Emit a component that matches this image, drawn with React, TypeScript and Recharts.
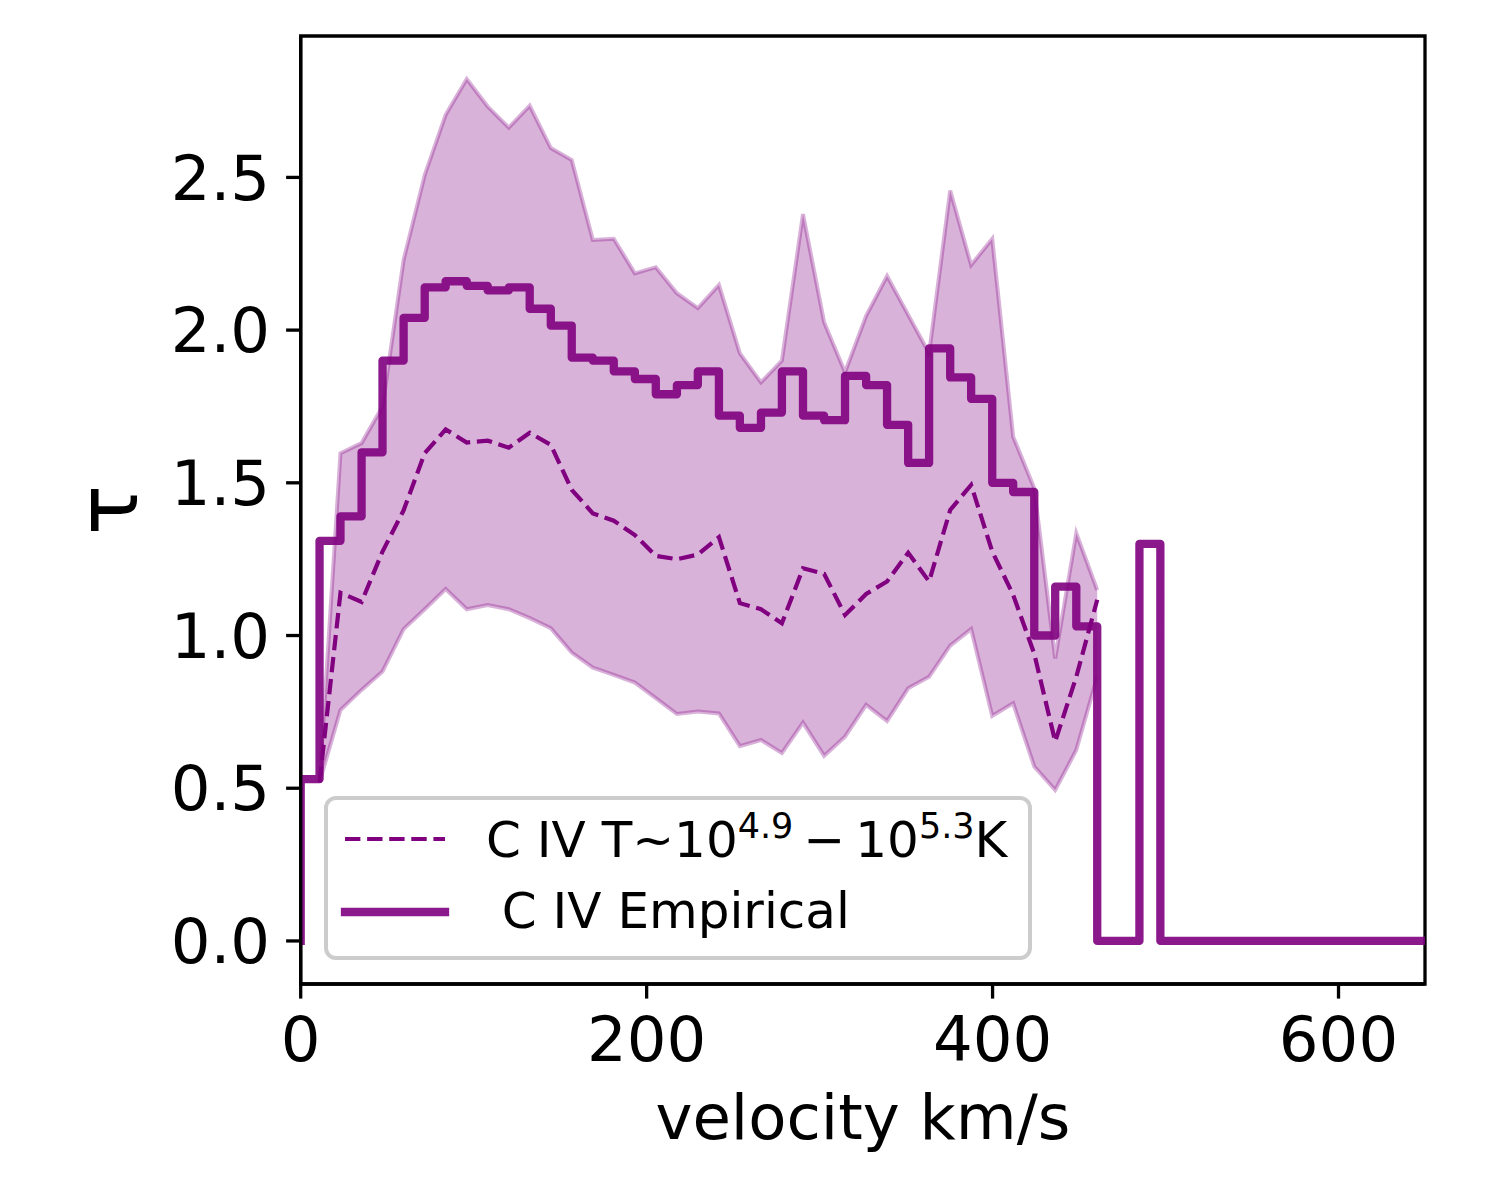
import { Area, ComposedChart, Line, ReferenceArea, XAxis, YAxis } from 'recharts';

const FONT = '"DejaVu Sans", sans-serif';
const PURPLE = '#800080';

// velocity grid (km/s); the first and last entries just anchor the step line
const VELOCITY = [
  0, 10.9, 23.0, 35.2, 47.3, 59.5, 71.7, 83.8, 96.0, 108.1, 120.3, 132.4, 144.6, 156.7,
  168.9, 181.0, 193.2, 205.3, 217.5, 229.6, 241.8, 253.9, 266.1, 278.2, 290.4, 302.6,
  314.7, 326.9, 339.0, 351.2, 363.3, 375.5, 387.6, 399.8, 411.9, 424.1, 436.2, 448.4,
  460.5, 472.7, 484.9, 497.0, 650,
];

// C IV empirical optical depth (steps)
const EMPIRICAL = [
  0, 0.53, 1.31, 1.39, 1.6, 1.9, 2.04, 2.14, 2.16, 2.145, 2.13, 2.14, 2.07, 2.015, 1.91,
  1.9, 1.865, 1.84, 1.79, 1.82, 1.865, 1.72, 1.68, 1.73, 1.865, 1.72, 1.705, 1.85, 1.82,
  1.69, 1.565, 1.94, 1.845, 1.775, 1.5, 1.47, 1.0, 1.16, 1.03, 0, 0, 1.3, 0,
];

// C IV model T~10^4.9-10^5.3 K (median)
const MODEL = [
  null, 0.52, 1.14, 1.11, 1.275, 1.41, 1.597, 1.675, 1.632, 1.638, 1.615, 1.664, 1.624,
  1.477, 1.4, 1.376, 1.329, 1.261, 1.25, 1.265, 1.322, 1.106, 1.086, 1.04, 1.22, 1.202,
  1.067, 1.136, 1.177, 1.271, 1.177, 1.411, 1.493, 1.275, 1.133, 0.94, 0.653, 0.865, 1.117,
  null, null, null, null,
];

const BAND_LOW = [
  null, 0.52, 0.756, 0.822, 0.882, 1.021, 1.086, 1.152, 1.086, 1.1, 1.086, 1.057, 1.024,
  0.944, 0.895, 0.871, 0.846, 0.795, 0.743, 0.751, 0.745, 0.638, 0.658, 0.615, 0.715, 0.606,
  0.669, 0.773, 0.72, 0.827, 0.865, 0.967, 1.021, 0.737, 0.778, 0.571, 0.494, 0.625, 0.865,
  null, null, null, null,
];

const BAND_HIGH = [
  null, 0.52, 1.597, 1.63, 1.75, 2.23, 2.508, 2.705, 2.822, 2.732, 2.663, 2.735, 2.596,
  2.557, 2.295, 2.299, 2.186, 2.206, 2.121, 2.072, 2.148, 1.924, 1.829, 1.9, 2.38, 2.026,
  1.862, 2.047, 2.177, 2.05, 1.924, 2.457, 2.213, 2.299, 1.651, 1.482, 0.925, 1.335, 1.149,
  null, null, null, null,
];

const X_TICKS = [0, 200, 400, 600];
const Y_TICKS = [0, 0.5, 1, 1.5, 2, 2.5];
const X_DOMAIN = [0, 650];
const Y_DOMAIN = [-0.141, 2.963];

const data = VELOCITY.map((v, i) => ({
  v,
  empirical: EMPIRICAL[i],
  model: MODEL[i],
  band: BAND_LOW[i] == null ? null : [BAND_LOW[i], BAND_HIGH[i]],
}));

function TauLabel(props: any) {
  const vb = props.viewBox ?? { x: 0, y: 36, width: 300.7, height: 948 };
  const x = vb.x + 136.7;
  const y = vb.y + vb.height / 2;
  return (
    <text
      x={x}
      y={y}
      transform={`rotate(-90 ${x} ${y})`}
      textAnchor="middle"
      fontSize={83}
      fontFamily={FONT}
      fill="#000"
    >
      τ
    </text>
  );
}

function ChartLegend() {
  return (
    <svg
      width={708}
      height={164}
      style={{ position: 'absolute', left: 324, top: 796 }}
    >
      <rect
        x={2}
        y={2}
        width={704}
        height={160}
        rx={10}
        fill="#fff"
        fillOpacity={0.8}
        stroke="#cccccc"
        strokeWidth={4}
      />
      <line
        x1={21}
        y1={43}
        x2={121}
        y2={43}
        stroke={PURPLE}
        strokeWidth={4.2}
        strokeDasharray="15.4 6.7"
      />
      <text x={162} y={60.5} fontSize={50} fontFamily={FONT} fill="#000">
        C IV T~10
        <tspan dy={-19} fontSize={35}>4.9</tspan>
        <tspan dy={19} fontSize={50}>{'\u2009\u2212\u200910'}</tspan>
        <tspan dy={-19} fontSize={35}>5.3</tspan>
        <tspan dy={19} fontSize={50}>K</tspan>
      </text>
      <line
        x1={21}
        y1={116}
        x2={121}
        y2={116}
        stroke={PURPLE}
        strokeOpacity={0.9}
        strokeWidth={8.3}
        strokeLinecap="square"
      />
      <text x={177.8} y={132} fontSize={50} fontFamily={FONT} fill="#000">
        C IV Empirical
      </text>
    </svg>
  );
}

export default function App() {
  return (
    <div
      style={{
        position: 'absolute',
        left: 0,
        top: 0,
        width: 1500,
        height: 1200,
        background: '#fff',
      }}
    >
      <ComposedChart
        width={1500}
        height={1200}
        data={data}
        margin={{ top: 36, right: 75, bottom: 0, left: 0 }}
      >
        <XAxis
          dataKey="v"
          type="number"
          domain={X_DOMAIN}
          ticks={X_TICKS}
          allowDataOverflow
          height={216}
          tickSize={14.6}
          tickMargin={17.7}
          tick={{ fontSize: 62.5, fill: '#000', fontFamily: FONT }}
          axisLine={{ stroke: '#000', strokeWidth: 3.3 }}
          tickLine={{ stroke: '#000', strokeWidth: 3.3 }}
          label={{
            value: 'velocity km/s',
            position: 'insideBottom',
            offset: 61,
            style: { fontSize: 62.5, fill: '#000', fontFamily: FONT },
          }}
        />
        <YAxis
          type="number"
          domain={Y_DOMAIN}
          ticks={Y_TICKS}
          allowDataOverflow
          width={300.7}
          tickSize={14.6}
          tickMargin={16}
          tickFormatter={(t: number) => t.toFixed(1)}
          tick={{ fontSize: 62.5, fill: '#000', fontFamily: FONT }}
          axisLine={{ stroke: '#000', strokeWidth: 3.3 }}
          tickLine={{ stroke: '#000', strokeWidth: 3.3 }}
          label={<TauLabel />}
        />
        <Area
          dataKey="band"
          type="linear"
          fill={PURPLE}
          fillOpacity={0.3}
          stroke={PURPLE}
          strokeOpacity={0.3}
          strokeWidth={4}
          isAnimationActive={false}
          activeDot={false}
          dot={false}
        />
        <Line
          dataKey="model"
          type="linear"
          stroke={PURPLE}
          strokeWidth={4.2}
          strokeDasharray="15.4 6.7"
          dot={false}
          activeDot={false}
          isAnimationActive={false}
        />
        <Line
          dataKey="empirical"
          type="stepBefore"
          stroke={PURPLE}
          strokeOpacity={0.9}
          strokeWidth={8.3}
          strokeLinejoin="round"
          strokeLinecap="square"
          dot={false}
          activeDot={false}
          isAnimationActive={false}
        />
        <ReferenceArea
          x1={X_DOMAIN[0]}
          x2={X_DOMAIN[1]}
          y1={Y_DOMAIN[0]}
          y2={Y_DOMAIN[1]}
          fill="none"
          stroke="#000"
          strokeWidth={3.3}
          ifOverflow="visible"
        />
      </ComposedChart>
      <ChartLegend />
    </div>
  );
}
